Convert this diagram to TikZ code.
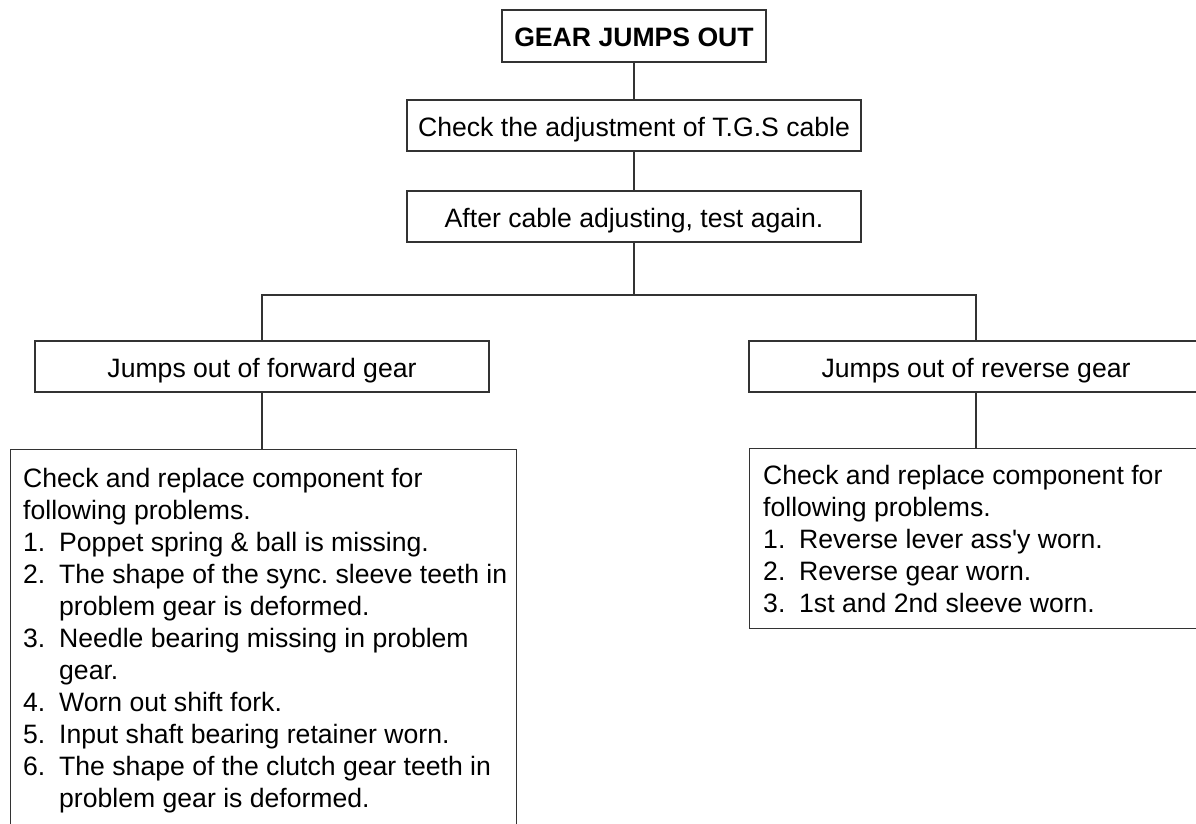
\documentclass[tikz,border=0pt]{standalone}
\usepackage{fontspec}
\setmainfont{Liberation Sans}
\frenchspacing
\begin{document}
\begin{tikzpicture}[x=1pt,y=-1pt,
  txt/.style={font=\fontsize{26.6}{32}\selectfont},
  box/.style={draw=black!80, line width=1.2pt, inner sep=0pt, txt, text height=24pt, text depth=3pt},
  frame/.style={draw=black!80, line width=1.2pt, inner sep=0pt, anchor=north west},
  list/.style={txt, anchor=north west, inner sep=0pt, align=left},
  conn/.style={draw=black!80, line width=1.2pt}]
\useasboundingbox (0,0) rectangle (1196,823);
\clip (0,0) rectangle (1196,823);
\fill[white] (0,0) rectangle (1196,823);
\newcommand{\itm}[1]{\makebox[36pt][l]{#1}}
\newcommand{\cont}{\hspace*{36pt}}
% boxes
\node[box, minimum width=264pt, minimum height=52pt, font=\bfseries\fontsize{26.6}{32}\selectfont] (top) at (634,36) {GEAR JUMPS OUT};
\node[box, minimum width=454pt, minimum height=51pt] (tgs) at (634,125.5) {Check the adjustment of T.G.S cable};
\node[box, minimum width=454pt, minimum height=51pt] (again) at (634,216.5) {After cable adjusting, test again.};
\node[box, minimum width=454pt, minimum height=51pt] (fwd) at (262,366.5) {Jumps out of forward gear};
\node[box, minimum width=454pt, minimum height=51pt] (rev) at (976,366.5) {Jumps out of reverse gear};
\node[frame, minimum width=506pt, minimum height=450pt] (fwdlist) at (10,449) {};
\node[frame, minimum width=470pt, minimum height=180pt] (revlist) at (749,448) {};
\node[list] (fwdtext) at ([xshift=13pt,yshift=-15.6pt]fwdlist.north west) {\strut Check and replace component for\\
following problems.\\
\itm{1.}Poppet spring \& ball is missing.\\
\itm{2.}The shape of the sync. sleeve teeth in\\
\cont problem gear is deformed.\\
\itm{3.}Needle bearing missing in problem\\
\cont gear.\\
\itm{4.}Worn out shift fork.\\
\itm{5.}Input shaft bearing retainer worn.\\
\itm{6.}The shape of the clutch gear teeth in\\
\cont problem gear is deformed.};
\node[list] (revtext) at ([xshift=14pt,yshift=-14pt]revlist.north west) {\strut Check and replace component for\\
following problems.\\
\itm{1.}Reverse lever ass\textquotesingle y worn.\\
\itm{2.}Reverse gear worn.\\
\itm{3.}1st and 2nd sleeve worn.};
% connectors
\coordinate (split) at (634,295);
\draw[conn] (top) -- (tgs);
\draw[conn] (tgs) -- (again);
\draw[conn] (again) -- (split);
\draw[conn] (fwd.north) |- (split) -| (rev.north);
\draw[conn] (fwd.south) -- (fwd.south |- fwdlist.north);
\draw[conn] (rev.south) -- (rev.south |- revlist.north);
\end{tikzpicture}
\end{document}
